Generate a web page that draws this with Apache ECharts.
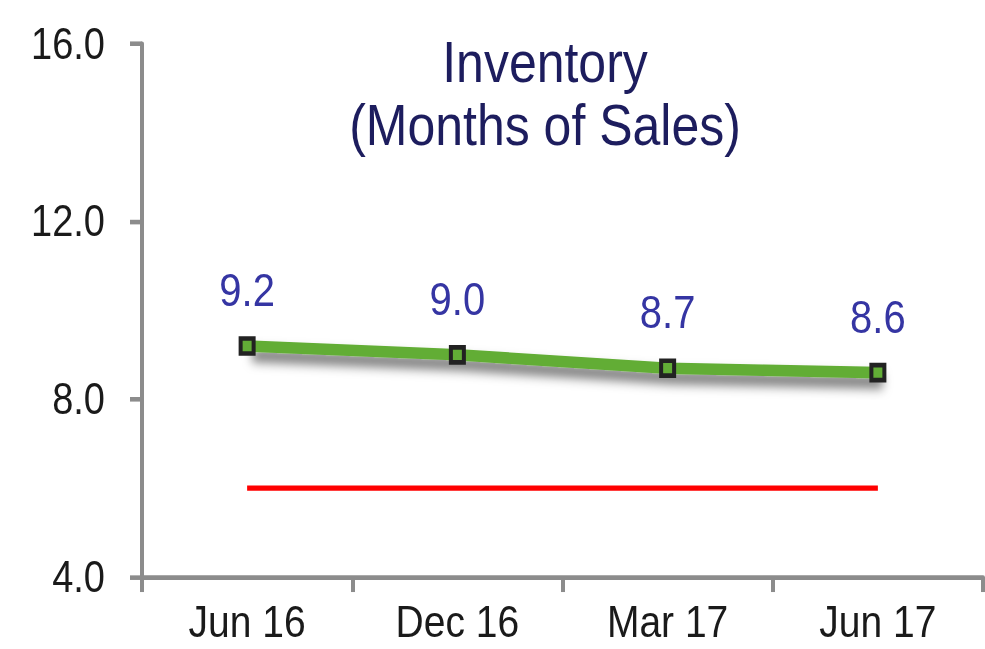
<!DOCTYPE html>
<html>
<head>
<meta charset="utf-8">
<title>Inventory (Months of Sales)</title>
<script src="https://cdn.jsdelivr.net/npm/echarts@6/dist/echarts.min.js"></script>
<style>
  html, body { margin: 0; padding: 0; background: #ffffff; }
  body { width: 985px; height: 649px; position: relative; }
  /* the chart is laid out in a shorter box and stretched to the full window height */
  #chart {
    position: absolute; left: 0; top: 0;
    width: 985px; height: 564px;
    transform: scaleY(1.1507); transform-origin: 0 0;
  }
</style>
</head>
<body>
<div id="chart"></div>
<script>
// Quarterly inventory, in months of sales
const categories = ['Jun 16', 'Dec 16', 'Mar 17', 'Jun 17'];
const inventoryMonths = [9.2, 9.0, 8.7, 8.6];
// Balanced-market reference level
const referenceLevel = [6.0, 6.0, 6.0, 6.0];
const yTicks = { min: 4, max: 16, interval: 4 };

const FONT = '"Liberation Sans", Arial, sans-serif';
const AXIS_GREY = '#8c8c8c';

const chart = echarts.init(document.getElementById('chart'), null, { renderer: 'svg' });

chart.setOption({
  backgroundColor: '#ffffff',
  animation: false,
  title: {
    text: 'Inventory\n(Months of Sales)',
    left: 540,
    top: 22,
    textAlign: 'center',
    textStyle: {
      fontFamily: FONT,
      fontSize: 50,
      fontWeight: 'normal',
      color: '#1d1d5e',
      lineHeight: 54
    }
  },
  grid: { left: 142, right: 2, top: 38, bottom: 62.5, containLabel: false },
  xAxis: {
    type: 'category',
    data: categories,
    boundaryGap: true,
    axisLine: { show: true, lineStyle: { color: AXIS_GREY, width: 4 } },
    axisTick: { show: true, inside: false, length: 13, lineStyle: { color: AXIS_GREY, width: 4 } },
    axisLabel: { margin: 24, fontFamily: FONT, fontSize: 39, lineHeight: 30, color: '#1a1a1a' },
    splitLine: { show: false }
  },
  yAxis: {
    type: 'value',
    min: yTicks.min,
    max: yTicks.max,
    interval: yTicks.interval,
    axisLine: { show: true, lineStyle: { color: AXIS_GREY, width: 4 } },
    axisTick: { show: true, inside: false, length: 12, lineStyle: { color: AXIS_GREY, width: 4 } },
    axisLabel: {
      margin: 37,
      fontFamily: FONT,
      fontSize: 38,
      color: '#1a1a1a',
      formatter: v => v.toFixed(1)
    },
    splitLine: { show: false }
  },
  series: [
    {
      name: 'Reference',
      type: 'line',
      data: referenceLevel,
      symbol: 'none',
      lineStyle: { color: '#ff0000', width: 4.5 },
      silent: true,
      z: 1
    },
    {
      name: 'Inventory',
      type: 'line',
      data: inventoryMonths,
      symbol: 'rect',
      symbolSize: 13,
      itemStyle: { color: '#62ad36', borderColor: '#222222', borderWidth: 4 },
      lineStyle: {
        color: '#62ad36',
        width: 10,
        shadowColor: 'rgba(0,0,0,0.6)',
        shadowBlur: 10,
        shadowOffsetX: 5,
        shadowOffsetY: 8
      },
      label: {
        show: true,
        position: 'top',
        distance: 20,
        fontFamily: FONT,
        fontSize: 40,
        color: '#3535a3',
        formatter: p => p.value.toFixed(1)
      },
      z: 3
    }
  ]
});
</script>
</body>
</html>
